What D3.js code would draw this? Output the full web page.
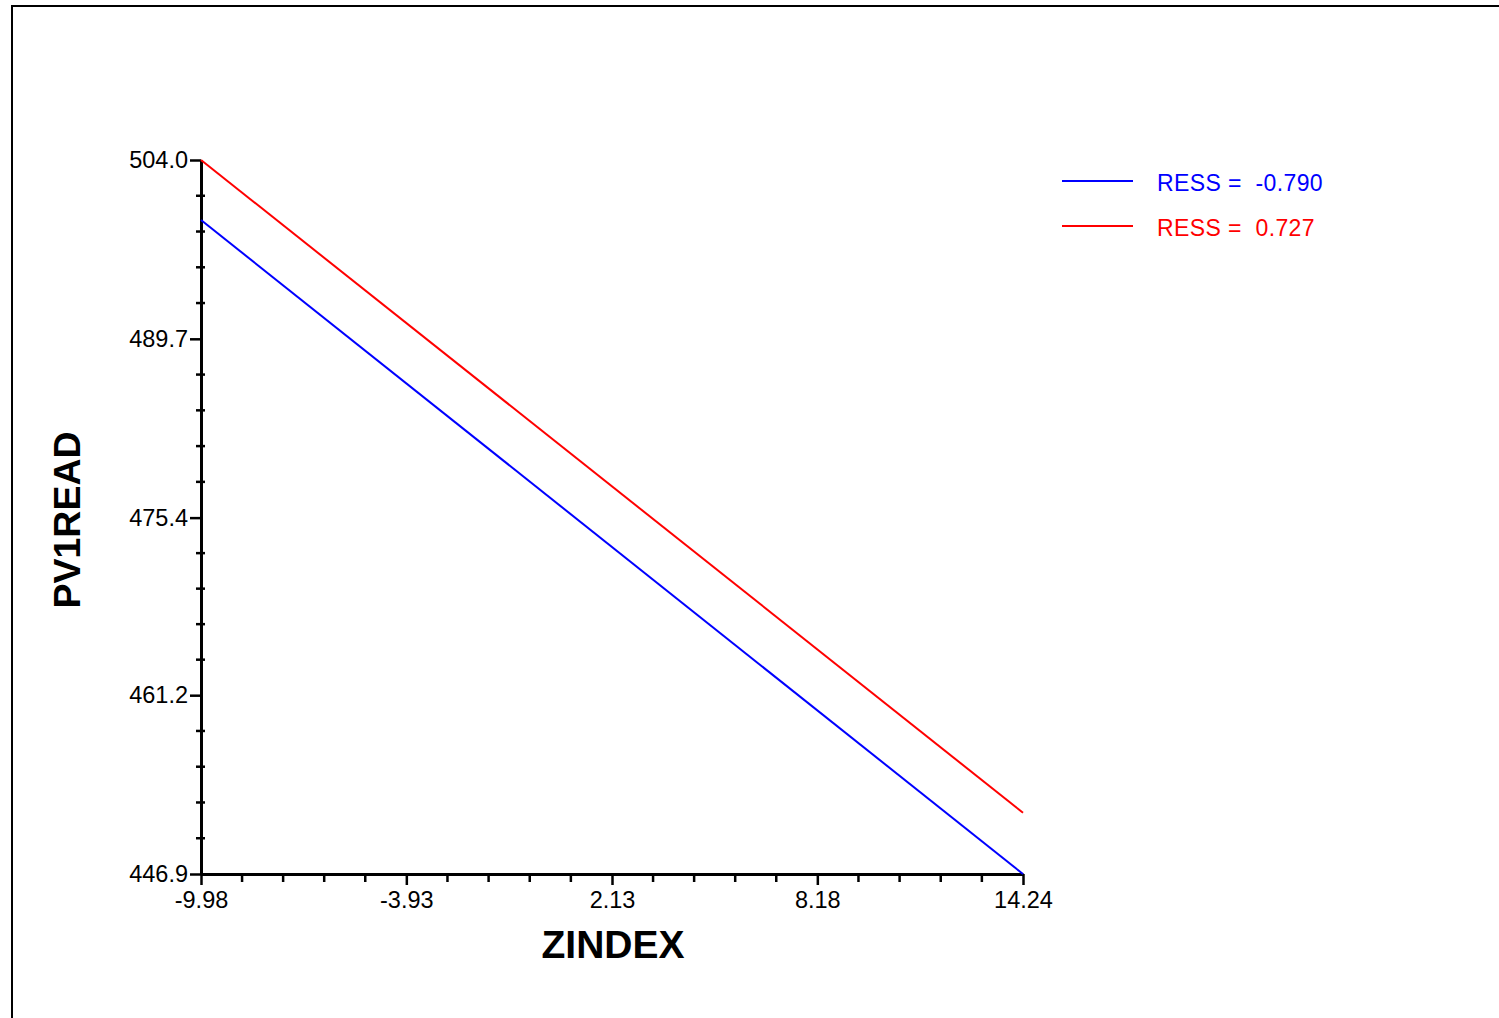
<!DOCTYPE html>
<html>
<head>
<meta charset="utf-8">
<script src="https://cdn.jsdelivr.net/npm/d3@7"></script>
<style>
  body { margin: 0; background: #fff; }
  text { font-family: "Liberation Sans", Arial, sans-serif; }
</style>
</head>
<body>
<div id="chart"></div>
<script>
// Chart values
var x_ticks = [-9.98, -3.93, 2.13, 8.18, 14.24];
var y_ticks = [446.9, 461.2, 475.4, 489.7, 504.0];
var zindex = [-9.98, 14.24];
var ress_neg = [499.2, 446.9];   // RESS = -0.790
var ress_pos = [504.0, 451.8];   // RESS = 0.727
var series_names = ["RESS =  -0.790", "RESS =  0.727"];
var series_colors = ["#0000ff", "#ff0000"];

const width = 1499, height = 1018;
const plot = {left: 201, right: 1023, top: 160, bottom: 874};

var svg = d3.select("#chart").append("svg")
    .attr("width", width)
    .attr("height", height);

// outer frame
svg.append("rect")
    .attr("x", 12).attr("y", 6)
    .attr("width", width).attr("height", height)
    .attr("fill", "none")
    .attr("stroke", "#000")
    .attr("stroke-width", 2);

var x_scale = d3.scaleLinear()
    .domain([x_ticks[0], x_ticks[x_ticks.length - 1]])
    .range([plot.left, plot.right]);

var y_scale = d3.scaleLinear()
    .domain([y_ticks[0], y_ticks[y_ticks.length - 1]])
    .range([plot.bottom, plot.top]);

// minor ticks: 4 between each pair of major ticks
function minors(ticks) {
    var out = [];
    for (var i = 0; i < ticks.length - 1; i++) {
        for (var k = 1; k < 5; k++) out.push(ticks[i] + (ticks[i + 1] - ticks[i]) * k / 5);
    }
    return out;
}

// plain hyphen for negatives, like the original
var fmt = (p) => (d) => d.toFixed(p);

// x axis
var x_axis = d3.axisBottom(x_scale)
    .tickValues(x_ticks)
    .tickFormat(fmt(2))
    .tickSize(11)
    .tickSizeOuter(0)
    .tickPadding(6);

var gx = svg.append("g")
    .attr("transform", "translate(0," + plot.bottom + ")")
    .call(x_axis);

gx.append("g").selectAll("line")
    .data(minors(x_ticks))
    .enter().append("line")
    .attr("x1", d => x_scale(d)).attr("x2", d => x_scale(d))
    .attr("y1", 0).attr("y2", 8)
    .attr("stroke", "#000").attr("stroke-width", 2.5);

// y axis
var y_axis = d3.axisLeft(y_scale)
    .tickValues(y_ticks)
    .tickFormat(fmt(1))
    .tickSize(11)
    .tickSizeOuter(0)
    .tickPadding(2);

var gy = svg.append("g")
    .attr("transform", "translate(" + plot.left + ",0)")
    .call(y_axis);

gy.append("g").selectAll("line")
    .data(minors(y_ticks))
    .enter().append("line")
    .attr("y1", d => y_scale(d)).attr("y2", d => y_scale(d))
    .attr("x1", -5).attr("x2", 4)
    .attr("stroke", "#000").attr("stroke-width", 2.5);

[gx, gy].forEach(function (g) {
    g.select(".domain").attr("stroke", "#000").attr("stroke-width", 3);
    g.selectAll(".tick line").attr("stroke", "#000").attr("stroke-width", 2.5);
    g.selectAll(".tick text")
        .attr("fill", "#000")
        .style("font-size", "23.5px")
        .style("font-family", "'Liberation Sans', Arial, sans-serif");
});

// axis titles
svg.append("text")
    .attr("x", x_scale((x_ticks[0] + x_ticks[4]) / 2) + 1)
    .attr("y", 958)
    .attr("text-anchor", "middle")
    .style("font-size", "39px")
    .style("font-weight", "bold")
    .text("ZINDEX");

svg.append("text")
    .attr("transform", "translate(80," + ((plot.top + plot.bottom) / 2 + 3) + ") rotate(-90)")
    .attr("text-anchor", "middle")
    .style("font-size", "37.5px")
    .style("font-weight", "bold")
    .text("PV1READ");

// data lines
var line = d3.line()
    .x(d => x_scale(d[0]))
    .y(d => y_scale(d[1]));

[ress_neg, ress_pos].forEach(function (vals, i) {
    svg.append("path")
        .datum(zindex.map((z, j) => [z, vals[j]]))
        .attr("d", line)
        .attr("fill", "none")
        .attr("stroke", series_colors[i])
        .attr("stroke-width", 2);
});

// legend
var legend = svg.append("g").attr("transform", "translate(1062,181)");
series_names.forEach(function (name, i) {
    var row = legend.append("g").attr("transform", "translate(0," + (i * 45) + ")");
    row.append("line")
        .attr("x1", 0).attr("x2", 71)
        .attr("stroke", series_colors[i]).attr("stroke-width", 2);
    row.append("text")
        .attr("x", 95).attr("y", 10)
        .attr("fill", series_colors[i])
        .style("font-size", "23px")
        .style("letter-spacing", "0.4px")
        .style("white-space", "pre")
        .text(name);
});
</script>
</body>
</html>
